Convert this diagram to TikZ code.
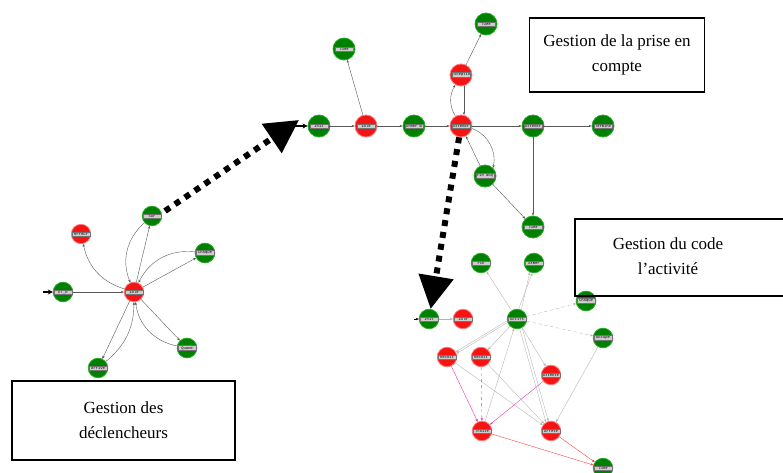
\documentclass[tikz,border=0pt]{standalone}
\usepackage{fontspec}
\setmainfont{Liberation Serif}
\setmonofont{Liberation Mono}
\usetikzlibrary{arrows.meta}

\definecolor{etatvert}{RGB}{0,128,0}
\definecolor{bordvert}{RGB}{40,170,40}
\definecolor{etatrouge}{RGB}{245,20,20}
\definecolor{bordrouge}{RGB}{255,120,120}

% small grey tag written inside each state
\newcommand{\etiq}[1]{{\setlength{\fboxsep}{0.7pt}\setlength{\fboxrule}{0.3pt}\fcolorbox{black!55}{black!20}{\makebox[17pt]{\fontsize{3.8}{4.2}\selectfont\ttfamily #1}}}}

\begin{document}
\begin{tikzpicture}[x=1pt, y=-1pt, >={Stealth[length=3pt,width=2.4pt]}]
        \tikzstyle{vert}=[circle,draw=bordvert,line width=0.8pt,fill=etatvert,minimum size=22pt,inner sep=0pt]
        \tikzstyle{rouge}=[circle,draw=bordrouge,line width=0.8pt,fill=etatrouge,minimum size=22pt,inner sep=0pt]
        \tikzstyle{petit}=[minimum size=19pt]
        \tikzstyle{trans}=[->,draw=black!65,line width=0.4pt]
        \tikzstyle{pale}=[->,draw=black!30,line width=0.35pt]
        \tikzstyle{rose}=[->,draw=magenta!80,line width=0.4pt]
        \tikzstyle{rougeclair}=[->,draw=red!75,line width=0.4pt]
        \tikzstyle{entree}=[line width=1.3pt,-{Stealth[length=5pt,width=5pt]}]
        \tikzstyle{gros}=[line width=6pt,dash pattern=on 6pt off 6pt,-{Triangle[length=33pt,width=34pt]}]
        \tikzstyle{cadre}=[rectangle,draw=black,line width=1.5pt,align=center,font=\fontsize{17}{25}\selectfont]
        \tikzstyle{titre}=[align=center,font=\fontsize{17}{25}\selectfont]

        \useasboundingbox (0,0) rectangle (783,473);

        % prise en compte
        \node[vert] (init) at (319,126) {\etiq{Init}};
        \node[rouge] (idle) at (366,126) {\etiq{Idle}};
        \node[vert] (tuee1) at (344,49) {\etiq{Tuee}};
        \node[vert] (armer) at (414,126) {\etiq{Armer W}};
        \node[rouge] (att1) at (461,126) {\etiq{Attendr}};
        \node[rouge] (exc) at (461,75) {\etiq{Exceptio}};
        \node[vert] (tuee2) at (486,24) {\etiq{Tuee}};
        \node[vert] (att2) at (533,126) {\etiq{Attendr}};
        \node[vert] (term) at (603,126) {\etiq{Termine}};
        \node[vert] (fin) at (485,176) {\etiq{Fin acq}};
        \node[vert] (tuee3) at (533,227) {\etiq{Tuee}};
        \coordinate (in1) at (291,126);

        \draw[entree] (in1) -- (init);
        \draw[trans] (init) -- (idle);
        \draw[trans] (idle) -- (tuee1);
        \draw[trans] (idle) -- (armer);
        \draw[trans] (armer) -- (att1);
        \draw[trans] (att1) to[bend left=30] (exc);
        \draw[trans] (exc.-75) -- (att1.75);
        \draw[trans] (exc) -- (tuee2);
        \draw[trans] (att1) -- (att2);
        \draw[trans] (att2) -- (term);
        \draw[trans] (att2) -- (tuee3);
        \draw[trans] (att1) to[bend left=40] (fin.north east);
        \draw[trans] (fin) -- (att1);
        \draw[trans] (fin) -- (tuee3);

        % declencheurs
        \node[vert,petit] (sur) at (152,216) {\etiq{Sur}};
        \node[rouge,petit] (err) at (81,234) {\etiq{erreur}};
        \node[vert,petit] (chaq) at (205,253) {\etiq{Chaque}};
        \node[vert,petit] (etr) at (63,292) {\etiq{ET\_R}};
        \node[rouge,petit] (idle2) at (134,292) {\etiq{Idle}};
        \node[vert,petit] (quand) at (187,348) {\etiq{Quand}};
        \node[vert,petit] (arr) at (98,368) {\etiq{arrive}};
        \coordinate (in2) at (43,292);

        \draw[entree] (in2) -- (etr);
        \draw[trans] (etr) -- (idle2);
        \draw[trans] (idle2) -- (sur);
        \draw[trans] (sur) to[bend right=35] (idle2);
        \draw[trans] (idle2) to[bend left=30] (err);
        \draw[trans] (idle2) -- (chaq);
        \draw[trans] (chaq) to[bend right=35] (idle2);
        \draw[trans] (idle2) -- (quand);
        \draw[trans] (quand) to[bend left=35] (idle2);
        \draw[trans] (idle2) -- (arr);
        \draw[trans] (arr) to[bend right=25] (idle2);

        % code de l'activite
        \node[vert,petit] (na) at (429,319) {\etiq{Init}};
        \node[rouge,petit] (nb) at (463,319) {\etiq{Idle}};
        \node[vert,petit] (nc) at (481,263) {\etiq{Fin}};
        \node[vert,petit] (nd) at (534,263) {\etiq{Armer}};
        \node[vert,petit] (ne) at (517,319) {\etiq{Actifs}};
        \node[vert,petit] (nf) at (586,301) {\etiq{Chaque}};
        \node[vert,petit] (ng) at (603,338) {\etiq{Occupe}};
        \node[rouge,petit] (nh) at (447,357) {\etiq{Recoit}};
        \node[rouge,petit] (ni) at (481,357) {\etiq{Recoit}};
        \node[rouge,petit] (nj) at (551,375) {\etiq{Attente}};
        \node[rouge,petit] (nk) at (482,431) {\etiq{Traite}};
        \node[rouge,petit] (nl) at (551,431) {\etiq{Arrete}};
        \node[vert,petit] (nm) at (603,468) {\etiq{Tuee}};
        \coordinate (in3) at (414,319);

        \draw[->,line width=0.4pt] (in3) -- (na);
        \draw[pale] (na) -- (nb);
        \draw[pale] (ne) -- (nc);
        \draw[pale] (ne.80) -- (nd.-100);
        \draw[pale] (ne.65) -- (nd.-115);
        \draw[pale,dashed] (ne) -- (nf);
        \draw[pale,dashed] (ne) -- (ng);
        \draw[pale] (ne.190) -- (nh.30);
        \draw[pale] (ne.200) -- (nh.20);
        \draw[pale] (ne) -- (ni);
        \draw[pale] (ne) -- (nj);
        \draw[pale] (ne.-60) -- (nl.105);
        \draw[pale] (ne.-75) -- (nl.120);
        \draw[pale] (nk) -- (ne);
        \draw[pale] (ng) -- (nl);
        \draw[pale] (nh) -- (nl);
        \draw[pale] (ni) -- (nl);
        \draw[rose] (nh) -- (nk);
        \draw[rose,dashed] (ni) -- (nk);
        \draw[rose] (nj) -- (nk);
        \draw[rougeclair] (nk) -- (nm);
        \draw[rougeclair] (nl) -- (nm);

        % liens entre les parties
        \coordinate (d1) at (165,211);
        \coordinate (f1) at (299,120);
        \draw[gros] (d1) -- (f1);
        \draw[gros] (att1) -- (na);

        % titres
        \node[cadre,minimum width=175pt,minimum height=74pt] (prise) at (617,55) {Gestion de la prise en\\compte};
        \node[cadre,anchor=north west,minimum width=212pt,minimum height=77pt] (code) at (574,218) {};
        \node[titre] (codetxt) at (668,256) {Gestion du code\\l'activité};
        \node[cadre,minimum width=223pt,minimum height=79pt] (decl) at (123.5,420.5) {Gestion des\\déclencheurs};
\end{tikzpicture}
\end{document}
